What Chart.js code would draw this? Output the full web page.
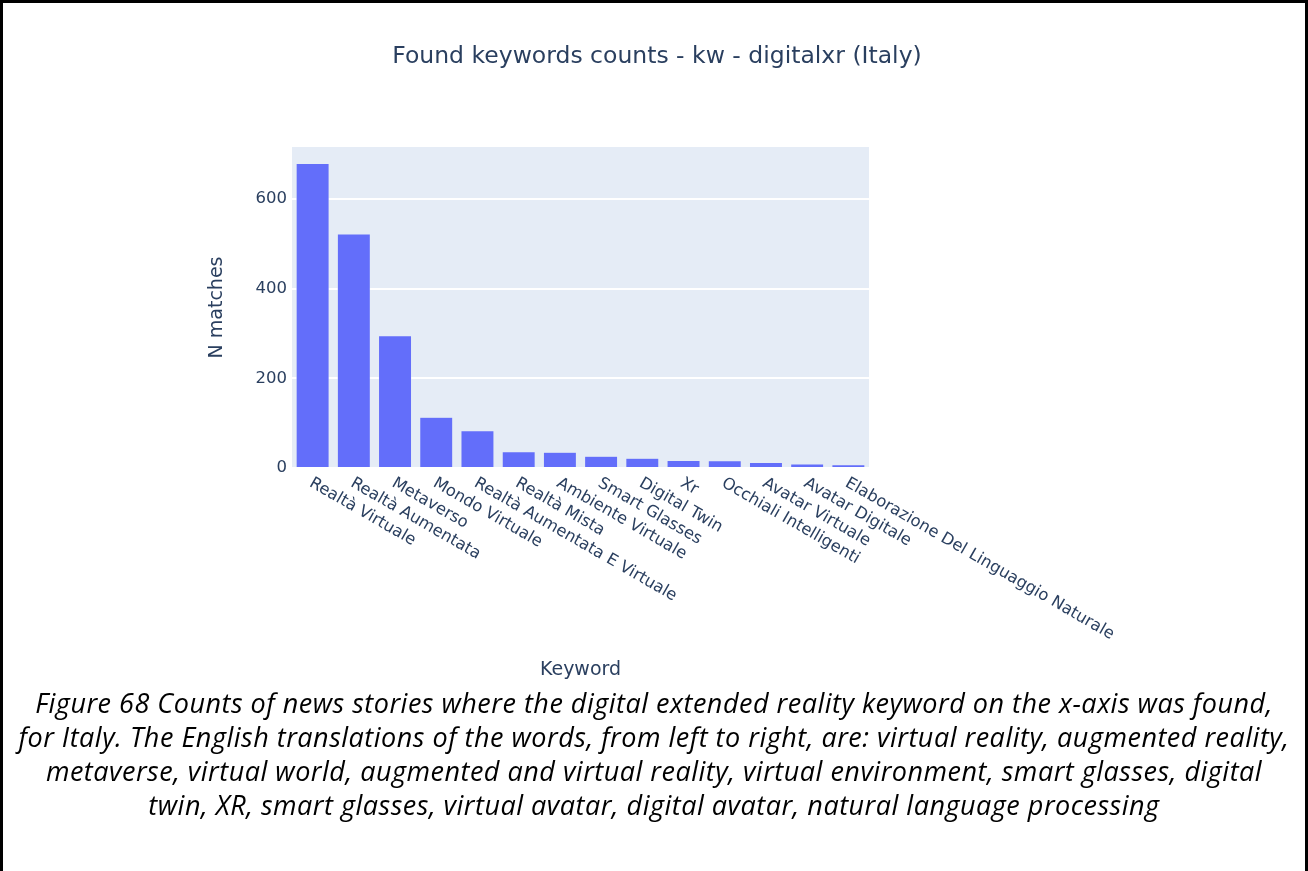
<!DOCTYPE html>
<html>
<head>
<meta charset="utf-8">
<script src="https://cdn.jsdelivr.net/npm/chart.js@4.4.1/dist/chart.umd.min.js"></script>
<style>
  html, body { margin: 0; padding: 0; background: #fff; }
  #frame {
    position: absolute; left: 0; top: 0; width: 1302px; height: 871px;
    border: 3px solid #000; border-bottom: none;
  }
  #wrap { position: absolute; left: 0; top: 0; width: 1308px; height: 871px; }
  #title {
    position: absolute; left: 0; width: 1314px; top: 41px; text-align: center;
    font-family: "DejaVu Sans", sans-serif; font-size: 23.5px; color: #2a3f5f;
  }
  #caption {
    position: absolute; left: 0; width: 1308px; top: 686px; text-align: center;
    font-family: "Open Sans", sans-serif; font-style: italic; font-size: 27px;
    letter-spacing: 0.5px; line-height: 34px; color: #000; white-space: nowrap;
  }
</style>
</head>
<body>
<div id="frame"></div>
<div id="wrap"><canvas id="chart" width="1308" height="871"></canvas></div>
<div id="title">Found keywords counts - kw - digitalxr (Italy)</div>
<div id="caption">Figure 68 Counts of news stories where the digital extended reality keyword on the x-axis was found,<br>for Italy. The English translations of the words, from left to right, are: virtual reality, augmented reality,<br>metaverse, virtual world, augmented and virtual reality, virtual environment, smart glasses, digital<br>twin, XR, smart glasses, virtual avatar, digital avatar, natural language processing</div>
<script>
const keywords = [
  'Realtà Virtuale', 'Realtà Aumentata', 'Metaverso', 'Mondo Virtuale',
  'Realtà Aumentata E Virtuale', 'Realtà Mista', 'Ambiente Virtuale',
  'Smart Glasses', 'Digital Twin', 'Xr', 'Occhiali Intelligenti',
  'Avatar Virtuale', 'Avatar Digitale', 'Elaborazione Del Linguaggio Naturale'
];
const matches = [679, 522, 295, 113, 83, 36, 35, 26, 22, 17, 16, 12, 9, 7];
const yTicks = [0, 200, 400, 600];

const textColor = '#2a3f5f';
const fontFamily = '"DejaVu Sans", sans-serif';

// plot background + rotated category labels + axis titles
const plotlyLook = {
  id: 'plotlyLook',
  beforeDraw(chart) {
    const { ctx, chartArea: a } = chart;
    ctx.save();
    ctx.fillStyle = '#e5ecf6';
    ctx.fillRect(a.left, a.top, a.right - a.left, a.bottom - a.top);
    ctx.restore();
  },
  afterDraw(chart) {
    const { ctx, chartArea: a } = chart;
    const xs = chart.scales.x;
    ctx.save();
    ctx.fillStyle = textColor;
    ctx.font = '16.3px ' + fontFamily;
    ctx.textAlign = 'left';
    ctx.textBaseline = 'middle';
    keywords.forEach((k, i) => {
      const px = xs.getPixelForTick(i);
      ctx.save();
      ctx.translate(px - 2, a.bottom + 14);
      ctx.rotate(Math.PI / 6);
      ctx.fillText(k, 0, 0);
      ctx.restore();
    });
    // axis titles
    ctx.font = '19px ' + fontFamily;
    ctx.textAlign = 'center';
    ctx.fillText('Keyword', (a.left + a.right) / 2, 670);
    ctx.save();
    ctx.translate(217, (a.top + a.bottom) / 2);
    ctx.rotate(-Math.PI / 2);
    ctx.fillText('N matches', 0, 0);
    ctx.restore();
    ctx.restore();
  }
};

new Chart(document.getElementById('chart'), {
  type: 'bar',
  data: {
    labels: keywords,
    datasets: [{
      data: matches,
      backgroundColor: '#636efa',
      borderColor: '#e5ecf6',
      borderWidth: 0.5,
      categoryPercentage: 1,
      barPercentage: 0.8
    }]
  },
  options: {
    responsive: false,
    animation: false,
    layout: { padding: { left: 0, right: 439, top: 147, bottom: 0 } },
    plugins: { legend: { display: false }, tooltip: { enabled: false } },
    scales: {
      x: {
        grid: { display: false },
        border: { display: false },
        ticks: { display: false },
        afterFit(scale) { scale.height = 871 - 468; }
      },
      y: {
        min: 0,
        max: 716,
        afterBuildTicks(scale) { scale.ticks = yTicks.map(v => ({ value: v })); },
        afterFit(scale) { scale.width = 292; },
        border: { display: false },
        grid: { color: '#ffffff', lineWidth: 2, drawTicks: false },
        ticks: {
          padding: 5,
          color: textColor,
          font: { family: fontFamily, size: 16.5 }
        }
      }
    }
  },
  plugins: [plotlyLook]
});
</script>
</body>
</html>
